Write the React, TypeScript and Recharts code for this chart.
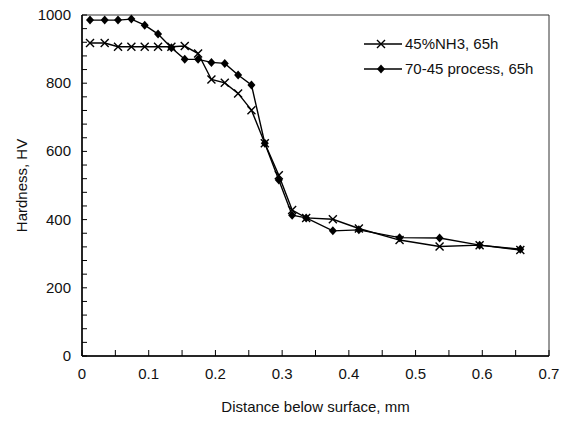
import React from 'react';
import { LineChart, Line, XAxis, YAxis, ReferenceArea, Legend } from 'recharts';

// distance below surface (mm), both profiles measured at the same depths
const distance = [
  0.012, 0.034, 0.054, 0.074, 0.094, 0.114, 0.134, 0.154, 0.174, 0.194, 0.214, 0.234,
  0.254, 0.274, 0.295, 0.315, 0.336, 0.376, 0.415, 0.476, 0.536, 0.596, 0.657,
];
const nh3Hardness = [
  918, 918, 907, 907, 907, 907, 907, 909, 887, 811, 801, 770,
  721, 624, 530, 428, 405, 401, 374, 340, 321, 325, 311,
];
const processHardness = [
  985, 985, 985, 988, 970, 944, 904, 870, 870, 861, 858, 824,
  795, 624, 516, 413, 405, 367, 370, 347, 346, 325, 313,
];

const xTicks = [0, 0.05, 0.1, 0.15, 0.2, 0.25, 0.3, 0.35, 0.4, 0.45, 0.5, 0.55, 0.6, 0.65, 0.7];
const xLabels = ['0', '0.1', '0.2', '0.3', '0.4', '0.5', '0.6', '0.7'];
const yTicks = [
  0, 40, 80, 120, 160, 200, 240, 280, 320, 360, 400, 440, 480, 520, 560, 600,
  640, 680, 720, 760, 800, 840, 880, 920, 960, 1000,
];
const yLabels = ['0', '200', '400', '600', '800', '1000'];

const seriesNames = ['45%NH3, 65h', '70-45 process, 65h'];

const data = distance.map((d, i) => ({
  d,
  nh3: nh3Hardness[i],
  proc: processHardness[i],
}));

const FONT = '"Liberation Sans", Arial, sans-serif';

const CrossDot = (props: any) => {
  const { cx, cy } = props;
  if (cx == null || cy == null) return null;
  return (
    <path
      d={`M${cx - 4},${cy - 4}L${cx + 4},${cy + 4}M${cx - 4},${cy + 4}L${cx + 4},${cy - 4}`}
      stroke="#000"
      strokeWidth={1.4}
    />
  );
};

const DiamondDot = (props: any) => {
  const { cx, cy } = props;
  if (cx == null || cy == null) return null;
  return <path d={`M${cx},${cy - 4.5}L${cx + 4},${cy}L${cx},${cy + 4.5}L${cx - 4},${cy}Z`} fill="#000" />;
};

const XTick = (props: any) => {
  const { x, y, payload } = props;
  const v = payload.value;
  const label = xLabels.find((l) => Math.abs(parseFloat(l) - v) < 1e-6);
  return (
    <g>
      <line x1={x} y1={y} x2={x} y2={y - 6} stroke="#000" strokeWidth={1} />
      {label !== undefined && (
        <text x={x} y={y + 23} textAnchor="middle" fontFamily={FONT} fontSize={15} fill="#111">
          {label}
        </text>
      )}
    </g>
  );
};

const YTick = (props: any) => {
  const { x, y, payload } = props;
  const label = yLabels.find((l) => Number(l) === payload.value);
  return (
    <g>
      <line x1={x} y1={y} x2={x + 5} y2={y} stroke="#000" strokeWidth={1} />
      {label !== undefined && (
        <text x={x - 11} y={y + 5} textAnchor="end" fontFamily={FONT} fontSize={15} fill="#111">
          {label}
        </text>
      )}
    </g>
  );
};

const LegendBox = () => (
  <div style={{ fontFamily: FONT, fontSize: 15, color: '#111', lineHeight: '25px' }}>
    {seriesNames.map((name, i) => (
      <div key={name} style={{ display: 'flex', alignItems: 'center', height: 25 }}>
        <svg width={38} height={14} style={{ marginRight: 3 }}>
          <line x1={0} y1={7} x2={38} y2={7} stroke="#000" strokeWidth={1.4} />
          {i === 0 ? <CrossDot cx={17} cy={7} /> : <DiamondDot cx={17} cy={7} />}
        </svg>
        <span>{name}</span>
      </div>
    ))}
  </div>
);

export default function App() {
  return (
    <div style={{ position: 'absolute', left: 0, top: 0, width: 571, height: 426, background: '#fff' }}>
      <LineChart width={571} height={426} data={data} margin={{ top: 15, right: 22, bottom: 0, left: 0 }}>
        <XAxis
          dataKey="d"
          type="number"
          domain={[0, 0.7]}
          ticks={xTicks}
          interval={0}
          tickSize={0}
          tickMargin={0}
          tickLine={false}
          tick={<XTick />}
          height={70}
          axisLine={{ stroke: '#000', strokeWidth: 1.5 }}
          label={(p: any) => {
            const vb = p.viewBox;
            return (
              <text x={vb.x + vb.width / 2} y={412} textAnchor="middle" fontFamily={FONT} fontSize={15} fill="#111">
                Distance below surface, mm
              </text>
            );
          }}
        />
        <YAxis
          type="number"
          domain={[0, 1000]}
          ticks={yTicks}
          interval={0}
          tickSize={0}
          tickMargin={0}
          tickLine={false}
          tick={<YTick />}
          width={82}
          axisLine={{ stroke: '#000', strokeWidth: 1.5 }}
          label={(p: any) => {
            const vb = p.viewBox;
            const cy = vb.y + vb.height / 2;
            return (
              <text
                x={27}
                y={cy}
                transform={`rotate(-90, 27, ${cy})`}
                textAnchor="middle"
                fontFamily={FONT}
                fontSize={15}
                fill="#111"
              >
                Hardness, HV
              </text>
            );
          }}
        />
        <ReferenceArea x1={0} x2={0.7} y1={0} y2={1000} fill="none" stroke="#333" strokeWidth={1} ifOverflow="visible" />
        <Line
          dataKey="nh3"
          name={seriesNames[0]}
          stroke="#000"
          strokeWidth={1.4}
          dot={<CrossDot />}
          activeDot={false}
          isAnimationActive={false}
        />
        <Line
          dataKey="proc"
          name={seriesNames[1]}
          stroke="#000"
          strokeWidth={1.4}
          dot={<DiamondDot />}
          activeDot={false}
          isAnimationActive={false}
        />
        <Legend
          layout="vertical"
          verticalAlign="middle"
          align="center"
          content={<LegendBox />}
          wrapperStyle={{ top: 31, left: 364, width: 190 }}
        />
      </LineChart>
    </div>
  );
}
